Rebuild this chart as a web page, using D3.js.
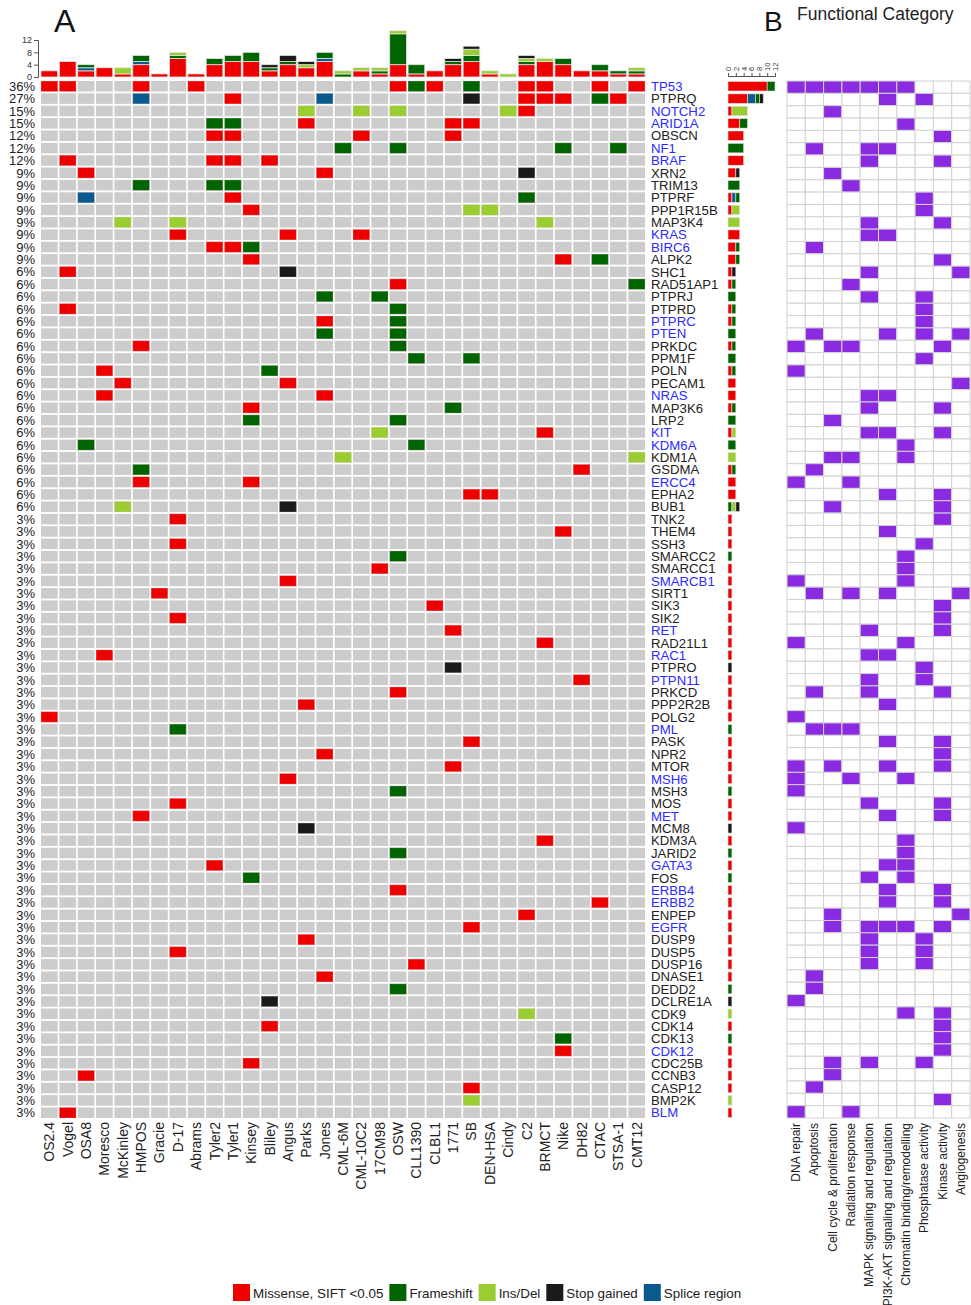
<!DOCTYPE html>
<html>
<head>
<meta charset="utf-8">
<script src="https://cdn.jsdelivr.net/npm/d3@7"></script>
<style>
  body { margin: 0; background: #fff; font-family: "Liberation Sans", Arial, sans-serif; }
  .axis text { font-family: "Liberation Sans", Arial, sans-serif; }
</style>
</head>
<body>
<svg id="chart" width="971" height="1305"></svg>
<script>
// Samples (columns) and genes (rows)
const samples = ["OS2.4","Vogel","OSA8","Moresco","McKinley","HMPOS","Gracie","D-17","Abrams","Tyler2",
  "Tyler1","Kinsey","Bliley","Angus","Parks","Jones","CML-6M","CML-10C2","17CM98","OSW","CLL1390",
  "CLBL1","1771","SB","DEN-HSA","Cindy","C2","BRMCT","Nike","DH82","CTAC","STSA-1","CMT12"];

const genes = ["TP53","PTPRQ","NOTCH2","ARID1A","OBSCN","NF1","BRAF","XRN2","TRIM13","PTPRF","PPP1R15B",
  "MAP3K4","KRAS","BIRC6","ALPK2","SHC1","RAD51AP1","PTPRJ","PTPRD","PTPRC","PTEN","PRKDC","PPM1F","POLN",
  "PECAM1","NRAS","MAP3K6","LRP2","KIT","KDM6A","KDM1A","GSDMA","ERCC4","EPHA2","BUB1","TNK2","THEM4",
  "SSH3","SMARCC2","SMARCC1","SMARCB1","SIRT1","SIK3","SIK2","RET","RAD21L1","RAC1","PTPRO","PTPN11",
  "PRKCD","PPP2R2B","POLG2","PML","PASK","NPR2","MTOR","MSH6","MSH3","MOS","MET","MCM8","KDM3A","JARID2",
  "GATA3","FOS","ERBB4","ERBB2","ENPEP","EGFR","DUSP9","DUSP5","DUSP16","DNASE1","DEDD2","DCLRE1A","CDK9",
  "CDK14","CDK13","CDK12","CDC25B","CCNB3","CASP12","BMP2K","BLM"];

// genes printed in blue
const blueGenes = ["TP53","NOTCH2","ARID1A","NF1","BRAF","KRAS","BIRC6","PTPRC","PTEN","NRAS","KIT","KDM6A",
  "ERCC4","SMARCB1","RET","RAC1","PTPN11","PML","MSH6","MET","GATA3","ERBB4","ERBB2","EGFR","CDK12","BLM"];

// M = missense, P = splice region, F = frameshift, I = ins/del, S = stop gained
const mutations = [
  ["TP53", "OS2.4:M Vogel:M HMPOS:M Abrams:M OSW:M CLL1390:F CLBL1:M SB:F C2:M BRMCT:M CTAC:M CMT12:M"],
  ["PTPRQ", "HMPOS:P Tyler1:M Jones:P SB:S C2:M BRMCT:M Nike:M CTAC:F STSA-1:M"],
  ["NOTCH2", "Parks:I CML-10C2:I OSW:I Cindy:I C2:M"],
  ["ARID1A", "Tyler2:F Tyler1:F Parks:M 1771:M SB:M"],
  ["OBSCN", "Tyler2:M Tyler1:M CML-10C2:M 1771:M"],
  ["NF1", "CML-6M:F OSW:F Nike:F STSA-1:F"],
  ["BRAF", "Vogel:M Tyler2:M Tyler1:M Bliley:M"],
  ["XRN2", "OSA8:M Jones:M C2:S"],
  ["TRIM13", "HMPOS:F Tyler2:F Tyler1:F"],
  ["PTPRF", "OSA8:P Tyler1:M C2:F"],
  ["PPP1R15B", "Kinsey:M SB:I DEN-HSA:I"],
  ["MAP3K4", "McKinley:I D-17:I BRMCT:I"],
  ["KRAS", "D-17:M Angus:M CML-10C2:M"],
  ["BIRC6", "Tyler2:M Tyler1:M Kinsey:F"],
  ["ALPK2", "Kinsey:M Nike:M CTAC:F"],
  ["SHC1", "Vogel:M Angus:S"],
  ["RAD51AP1", "OSW:M CMT12:F"],
  ["PTPRJ", "Jones:F 17CM98:F"],
  ["PTPRD", "Vogel:M OSW:F"],
  ["PTPRC", "Jones:M OSW:F"],
  ["PTEN", "Jones:F OSW:F"],
  ["PRKDC", "HMPOS:M OSW:F"],
  ["PPM1F", "CLL1390:F SB:F"],
  ["POLN", "Moresco:M Bliley:F"],
  ["PECAM1", "McKinley:M Angus:M"],
  ["NRAS", "Moresco:M Jones:M"],
  ["MAP3K6", "Kinsey:M 1771:F"],
  ["LRP2", "Kinsey:F OSW:F"],
  ["KIT", "17CM98:I BRMCT:M"],
  ["KDM6A", "OSA8:F CLL1390:F"],
  ["KDM1A", "CML-6M:I CMT12:I"],
  ["GSDMA", "HMPOS:F DH82:M"],
  ["ERCC4", "HMPOS:M Kinsey:M"],
  ["EPHA2", "SB:M DEN-HSA:M"],
  ["BUB1", "McKinley:I Angus:F Angus:S"],
  ["TNK2", "D-17:M"], ["THEM4", "Nike:M"], ["SSH3", "D-17:M"], ["SMARCC2", "OSW:F"],
  ["SMARCC1", "17CM98:M"], ["SMARCB1", "Angus:M"], ["SIRT1", "Gracie:M"], ["SIK3", "CLBL1:M"],
  ["SIK2", "D-17:M"], ["RET", "1771:M"], ["RAD21L1", "BRMCT:M"], ["RAC1", "Moresco:M"],
  ["PTPRO", "1771:S"], ["PTPN11", "DH82:M"], ["PRKCD", "OSW:M"], ["PPP2R2B", "Parks:M"],
  ["POLG2", "OS2.4:M"], ["PML", "D-17:F"], ["PASK", "SB:M"], ["NPR2", "Jones:M"], ["MTOR", "1771:M"],
  ["MSH6", "Angus:M"], ["MSH3", "OSW:F"], ["MOS", "D-17:M"], ["MET", "HMPOS:M"], ["MCM8", "Parks:S"],
  ["KDM3A", "BRMCT:M"], ["JARID2", "OSW:F"], ["GATA3", "Tyler2:M"], ["FOS", "Kinsey:F"],
  ["ERBB4", "OSW:M"], ["ERBB2", "CTAC:M"], ["ENPEP", "C2:M"], ["EGFR", "SB:M"], ["DUSP9", "Parks:M"],
  ["DUSP5", "D-17:M"], ["DUSP16", "CLL1390:M"], ["DNASE1", "Jones:M"], ["DEDD2", "OSW:F"],
  ["DCLRE1A", "Bliley:S"], ["CDK9", "C2:I"], ["CDK14", "Bliley:M"], ["CDK13", "Nike:F"],
  ["CDK12", "Nike:M"], ["CDC25B", "Kinsey:M"], ["CCNB3", "OSA8:M"], ["CASP12", "SB:M"],
  ["BMP2K", "SB:I"], ["BLM", "Vogel:M"]
];

const typeOrder = ["M", "P", "F", "I", "S"];
const typeColors = { M: "#ee0000", P: "#0a5a8e", F: "#006400", I: "#9acd32", S: "#1a1a1a" };
const legendTypes = ["M", "F", "I", "S", "P"];
const legendLabels = ["Missense, SIFT <0.05", "Frameshift", "Ins/Del", "Stop gained", "Splice region"];

// Panel B
const categories = ["DNA repair","Apoptosis","Cell cycle & proliferation","Radiation response",
  "MAPK signaling and regulation","PI3K-AKT signaling and regulation","Chromatin binding/remodelling",
  "Phosphatase activity","Kinase activity","Angiogenesis"];

// category indices per gene, same order as genes
const geneCategories = [
  [0,1,2,3,4,5,6],[5,7],[2],[6],[8],[1,4,5],[4,8],[2],[3],[7],[7],
  [4,8],[4,5],[1],[8],[4,9],[3],[4,7],[7],[7],[1,5,7,9],[0,2,3,8],[7],[0],
  [9],[4,5],[4,8],[2],[4,5,8],[6],[2,3,6],[1],[0,3],[5,8],[2,8],[8],[5],
  [7],[6],[6],[0,6],[1,3,5,9],[8],[8],[4,8],[0,6],[4,5],[7],[4,7],
  [1,4,8],[5],[0],[1,2,3],[5,8],[8],[0,2,5,8],[0,3,6],[0],[4,8],[5,8],[0],[6],[6],
  [5,6],[4,6],[5,8],[5,8],[2,9],[2,4,5,6,8],[4,7],[4,7],[4,7],[1],[1],[0],[6,8],
  [8],[8],[8],[2,4,7],[2],[1],[8],[0,3]
];

// ---- parse mutation table
const muts = [];
mutations.forEach(([g, s]) => {
  s.split(" ").forEach(tok => {
    const [smp, t] = tok.split(":");
    muts.push({ gene: g, sample: smp, type: t });
  });
});

const svg = d3.select("#chart");
const textCol = "#222";

// scales
const x = d3.scaleBand().domain(samples).range([41, 645]).paddingInner(0.09);
const y = d3.scaleBand().domain(genes).range([81, 1118]).paddingInner(0.15);
const yFull = d3.scaleBand().domain(genes).range([81, 1118]);

// ---- grid background
const bg = svg.append("g");
genes.forEach(g => {
  bg.selectAll(null)
    .data(samples)
    .enter()
    .append("rect")
    .attr("x", d => x(d))
    .attr("y", y(g))
    .attr("width", x.bandwidth())
    .attr("height", y.bandwidth())
    .attr("fill", "#cccccc");
});

// mutation cells
svg.append("g")
  .selectAll("rect")
  .data(muts)
  .enter()
  .append("rect")
  .attr("x", d => x(d.sample))
  .attr("y", d => y(d.gene))
  .attr("width", x.bandwidth())
  .attr("height", y.bandwidth())
  .attr("fill", d => typeColors[d.type])
  .attr("stroke", "#f4d0d0")
  .attr("stroke-opacity", 0.35)
  .attr("stroke-width", 0.8);

// percentage labels
svg.append("g")
  .selectAll("text")
  .data(genes)
  .enter()
  .append("text")
  .attr("x", 35)
  .attr("y", g => y(g) + y.bandwidth() / 2)
  .attr("dy", "0.36em")
  .attr("text-anchor", "end")
  .style("font-size", "13px")
  .style("fill", textCol)
  .text(g => {
    const n = new Set(muts.filter(m => m.gene === g).map(m => m.sample)).size;
    return Math.round(n / samples.length * 100) + "%";
  });

// gene labels
svg.append("g")
  .selectAll("text")
  .data(genes)
  .enter()
  .append("text")
  .attr("x", 651)
  .attr("y", g => y(g) + y.bandwidth() / 2)
  .attr("dy", "0.36em")
  .style("font-size", "13.2px")
  .style("fill", g => (blueGenes.includes(g) ? "#2b2bff" : textCol))
  .text(g => g);

// sample labels
svg.append("g")
  .selectAll("text")
  .data(samples)
  .enter()
  .append("text")
  .attr("transform", d => `translate(${x(d) + x.bandwidth() / 2 + 5},1122) rotate(-90)`)
  .attr("text-anchor", "end")
  .style("font-size", "14px")
  .style("fill", textCol)
  .text(d => d);

// ---- top stacked bars (mutations per sample)
const sampleCounts = samples.map(s => {
  const row = { sample: s };
  typeOrder.forEach(t => (row[t] = muts.filter(m => m.sample === s && m.type === t).length));
  return row;
});
const topStack = d3.stack().keys(typeOrder)(sampleCounts);
const ty = d3.scaleLinear().domain([0, 12]).range([77, 40]);

svg.append("g")
  .selectAll("g")
  .data(topStack)
  .enter()
  .append("g")
  .attr("fill", d => typeColors[d.key])
  .selectAll("rect")
  .data(d => d.filter(v => v[1] > v[0]))
  .enter()
  .append("rect")
  .attr("x", d => x(d.data.sample))
  .attr("y", d => ty(d[1]))
  .attr("width", x.bandwidth())
  .attr("height", d => ty(d[0]) - ty(d[1]))
  .attr("stroke", "#e4e4e4")
  .attr("stroke-width", 0.8);

const topAxis = svg.append("g")
  .attr("class", "axis")
  .attr("transform", "translate(38,0)")
  .call(d3.axisLeft(ty).tickValues([0, 4, 8, 12]).tickSize(4).tickPadding(2));
topAxis.selectAll("text").style("font-size", "9px").style("fill", "#333");
topAxis.selectAll("line, path").attr("stroke", "#555");

// ---- right stacked bars (mutations per gene)
const geneCounts = genes.map(g => {
  const row = { gene: g };
  typeOrder.forEach(t => (row[t] = muts.filter(m => m.gene === g && m.type === t).length));
  return row;
});
const rightStack = d3.stack().keys(typeOrder)(geneCounts);
const rx = d3.scaleLinear().domain([0, 12]).range([728, 775]);

svg.append("g")
  .selectAll("g")
  .data(rightStack)
  .enter()
  .append("g")
  .attr("fill", d => typeColors[d.key])
  .selectAll("rect")
  .data(d => d.filter(v => v[1] > v[0]))
  .enter()
  .append("rect")
  .attr("x", d => rx(d[0]))
  .attr("y", d => y(d.data.gene) + 0.5)
  .attr("width", d => rx(d[1]) - rx(d[0]))
  .attr("height", y.bandwidth() - 1)
  .attr("stroke", "#e4e4e4")
  .attr("stroke-width", 0.6);

const rightAxis = svg.append("g")
  .attr("class", "axis")
  .attr("transform", "translate(0,76)")
  .call(d3.axisTop(rx).tickValues([0, 2, 4, 6, 8, 10, 12]).tickSize(3));
rightAxis.selectAll("text")
  .attr("transform", "rotate(-90)")
  .attr("x", 5)
  .attr("y", 0)
  .attr("dy", "0.32em")
  .style("text-anchor", "start")
  .style("font-size", "7.5px")
  .style("fill", "#333");
rightAxis.selectAll("line, path").attr("stroke", "#555");

// ---- panel B: functional categories
const bx = d3.scaleBand().domain(categories).range([787, 970]);
const catCells = [];
genes.forEach((g, i) => {
  categories.forEach((c, j) => {
    catCells.push({ gene: g, cat: c, on: geneCategories[i].includes(j) });
  });
});

svg.append("g")
  .selectAll("rect")
  .data(catCells)
  .enter()
  .append("rect")
  .attr("x", d => bx(d.cat))
  .attr("y", d => yFull(d.gene))
  .attr("width", bx.bandwidth())
  .attr("height", yFull.step())
  .attr("fill", d => (d.on ? "#8a2be2" : "#ffffff"))
  .attr("stroke", "#d2d2d2")
  .attr("stroke-width", 1);

svg.append("g")
  .selectAll("text")
  .data(categories)
  .enter()
  .append("text")
  .attr("transform", d => `translate(${bx(d) + bx.bandwidth() / 2 + 4},1123) rotate(-90)`)
  .attr("text-anchor", "end")
  .style("font-size", "12px")
  .style("fill", textCol)
  .text(d => d);

// ---- titles
svg.append("text").attr("x", 54).attr("y", 32).style("font-size", "32px").style("fill", "#111").text("A");
svg.append("text").attr("x", 764).attr("y", 31).style("font-size", "28px").style("fill", "#111").text("B");
svg.append("text").attr("x", 797).attr("y", 20).style("font-size", "17.5px").style("fill", textCol)
  .text("Functional Category");

// ---- legend
const legend = svg.append("g");
let lx = 233;
legendTypes.forEach((t, i) => {
  legend.append("rect")
    .attr("x", lx).attr("y", 1284)
    .attr("width", 17).attr("height", 17)
    .attr("fill", typeColors[t]);
  const txt = legend.append("text")
    .attr("x", lx + 20).attr("y", 1298)
    .style("font-size", "13.4px")
    .style("fill", textCol)
    .text(legendLabels[i]);
  lx += 20 + txt.node().getComputedTextLength() + 6;
});
</script>
</body>
</html>
